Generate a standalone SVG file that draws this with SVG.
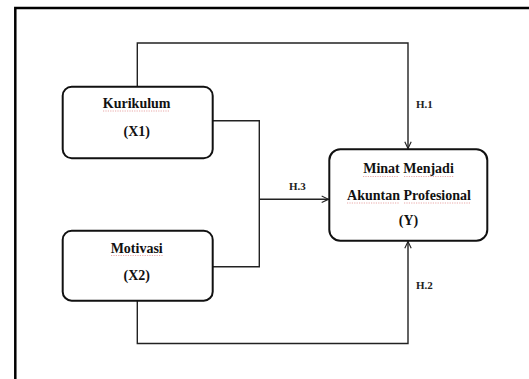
<svg xmlns="http://www.w3.org/2000/svg" width="529" height="379" viewBox="0 0 529 379">
  <style>
    .frame { fill: none; stroke: #000; stroke-width: 2.5; }
    .box { fill: #fff; stroke: #111; stroke-width: 2; }
    .conn { fill: none; stroke: #222; stroke-width: 1.4; }
    .t { font-family: "Liberation Serif", "Times New Roman", serif; font-weight: bold; font-size: 14px; fill: #111; text-anchor: middle; }
    .lbl { font-family: "Liberation Serif", "Times New Roman", serif; font-weight: bold; font-size: 11px; fill: #222; }
    .sq { fill: none; stroke: #d77; stroke-width: 0.8; stroke-dasharray: 1.2 1.2; opacity: 0.8; }
  </style>
  <defs>
    <marker id="arr" viewBox="0 0 10 10" refX="9.5" refY="5" markerWidth="8" markerHeight="8" markerUnits="userSpaceOnUse" orient="auto">
      <path d="M1,1 L9.5,5 L1,9" fill="none" stroke="#222" stroke-width="1.4"/>
    </marker>
  </defs>
  <rect width="529" height="379" fill="#fff"/>
  <path class="frame" d="M15.3,379 V8 H529"/>

  <g id="connectors">
    <path class="conn" d="M137.3,86.7 V43 H408 V148.5" marker-end="url(#arr)"/>
    <path class="conn" d="M212.7,120.7 H259.3 V266.7 H212.7"/>
    <path class="conn" d="M259.3,199.3 H328.5" marker-end="url(#arr)"/>
    <path class="conn" d="M137.3,300.7 V343.5 H408 V241.5" marker-end="url(#arr)"/>
    <text class="lbl" x="416" y="108">H.1</text>
    <text class="lbl" x="289" y="190">H.3</text>
    <text class="lbl" x="416" y="289">H.2</text>
  </g>

  <g id="kurikulum">
    <rect class="box" x="62.7" y="86.7" width="150" height="71.6" rx="9"/>
    <text class="t" x="136.7" y="108">Kurikulum</text>
    <path class="sq" d="M103,111 H170"/>
    <text class="t" x="136.7" y="136">(X1)</text>
  </g>

  <g id="motivasi">
    <rect class="box" x="62.7" y="230.7" width="150" height="70" rx="9"/>
    <text class="t" x="136.7" y="252.5">Motivasi</text>
    <path class="sq" d="M111,255.5 H163"/>
    <text class="t" x="136.7" y="280">(X2)</text>
  </g>

  <g id="minat">
    <rect class="box" x="329.3" y="149.3" width="158" height="91.4" rx="11"/>
    <text class="t" x="408.5" y="173.3">Minat Menjadi</text>
    <path class="sq" d="M363,176.5 H399 M404,176.5 H454"/>
    <text class="t" x="409" y="200">Akuntan Profesional</text>
    <path class="sq" d="M347,203 H399 M404,203 H471"/>
    <text class="t" x="408.5" y="225">(Y)</text>
  </g>
</svg>
